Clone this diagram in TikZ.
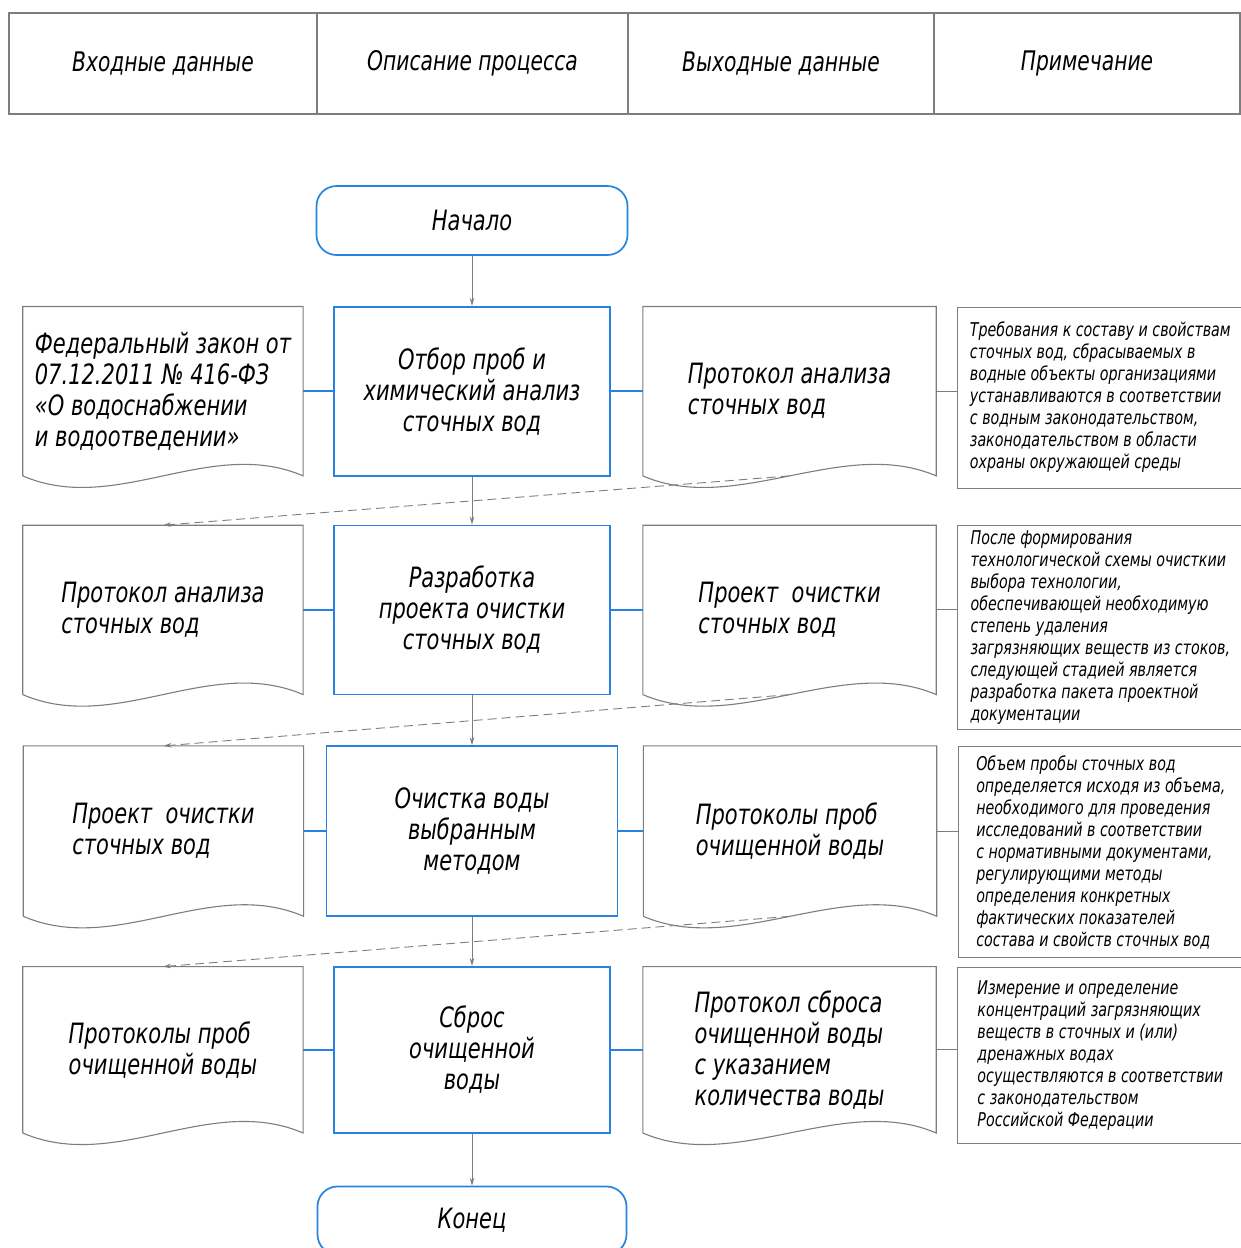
\documentclass[tikz,border=0pt]{standalone}
\usepackage{fontspec}
\setmainfont{DejaVu Sans}[FakeStretch=0.75]
\usetikzlibrary{arrows.meta, positioning}
\definecolor{lineblue}{RGB}{40,130,225}
\definecolor{linegray}{RGB}{125,125,125}

\begin{document}
\begin{tikzpicture}[
    x=1pt, y=-1pt,
    font=\itshape\fontsize{28}{31}\selectfont,
    head/.style={rectangle, draw=linegray, line width=1.1pt, minimum height=101pt, inner sep=0pt, font=\itshape\fontsize{27}{32}\selectfont},
    term/.style={rectangle, draw=lineblue, line width=1.7pt, rounded corners=20pt, minimum height=69pt, inner sep=0pt},
    proc/.style={rectangle, draw=lineblue, line width=1.7pt, minimum width=276pt, minimum height=169pt, align=center, inner sep=0pt},
    doc/.style={rectangle, minimum height=169pt, align=left, inner sep=0pt},
    note/.style={rectangle, draw=linegray, line width=1.1pt, minimum width=285pt, align=left, inner xsep=4pt, anchor=north west, font=\itshape\fontsize{19}{22}\selectfont},
    docline/.style={draw=linegray, line width=1.1pt},
    link/.style={draw=lineblue, line width=1.7pt},
    aside/.style={draw=linegray, line width=1.1pt},
    arrow/.style={-{Stealth[length=8pt,width=4.5pt]}, draw=linegray, line width=0.9pt},
    backarrow/.style={arrow, dash pattern=on 9pt off 5pt}
]
    \useasboundingbox (0,0) rectangle (1241,1248);

    \node[head, minimum width=308pt] (hIn) at (163,63.5) {Входные данные};
    \node[head, minimum width=311pt] (hProc) at (472.5,63.5) {Описание процесса};
    \node[head, minimum width=306pt] (hOut) at (781,63.5) {Выходные данные};
    \node[head, minimum width=306pt] (hNote) at (1087,63.5) {Примечание};

    \node[term, minimum width=311pt] (start) at (472,220.5) {Начало};
    \node[proc, below=50pt of start] (procA) {Отбор проб и\\химический анализ\\сточных вод};
    \node[proc, below=48pt of procA] (procB) {Разработка\\проекта очистки\\сточных вод};
    \node[proc, below=50pt of procB, minimum width=291pt, minimum height=170pt] (procC) {Очистка воды\\выбранным\\методом};
    \node[proc, below=49pt of procC, minimum height=166pt] (procD) {Сброс\\очищенной\\воды};
    \node[term, below=52pt of procD, minimum width=309pt, minimum height=68pt] (end) {Конец};

    \node[doc, left=30pt of procA, minimum width=280pt] (inA) {Федеральный закон от\\07.12.2011 № 416-ФЗ\\«О водоснабжении\\и водоотведении»};
    \node[doc, left=30pt of procB, minimum width=280pt] (inB) {Протокол анализа\\сточных вод};
    \node[doc, left=22pt of procC, minimum width=280pt, minimum height=170pt] (inC) {Проект~ очистки\\сточных вод};
    \node[doc, left=30pt of procD, minimum width=280pt, minimum height=166pt] (inD) {Протоколы проб\\очищенной воды};

    \node[doc, right=32pt of procA, minimum width=293pt] (outA) {Протокол анализа\\сточных вод};
    \node[doc, right=32pt of procB, minimum width=293pt] (outB) {Проект~ очистки\\сточных вод};
    \node[doc, right=25pt of procC, minimum width=293pt, minimum height=170pt] (outC) {Протоколы проб\\очищенной воды};
    \node[doc, right=32pt of procD, minimum width=293pt, minimum height=166pt] (outD) {Протокол сброса\\очищенной воды\\с указанием\\количества воды};

    \node[note, right=21pt of outA.north east, anchor=north west, minimum height=181pt] (noteA) {Требования к составу и свойствам\\сточных вод, сбрасываемых в\\водные объекты организациями\\устанавливаются в соответствии\\с водным законодательством,\\законодательством в области\\охраны окружающей среды};
    \node[note, right=21pt of outB.north east, anchor=north west, minimum height=204pt] (noteB) {После формирования\\технологической схемы очисткии\\выбора технологии,\\обеспечивающей необходимую\\степень удаления\\загрязняющих веществ из стоков,\\следующей стадией является\\разработка пакета проектной\\документации};
    \node[note, right=21pt of outC.north east, anchor=north west, minimum height=211pt] (noteC) {Объем пробы сточных вод\\определяется исходя из объема,\\необходимого для проведения\\исследований в соответствии\\с нормативными документами,\\регулирующими методы\\определения конкретных\\фактических показателей\\состава и свойств сточных вод};
    \node[note, right=21pt of outD.north east, anchor=north west, minimum height=176pt] (noteD) {Измерение и определение\\концентраций загрязняющих\\веществ в сточных и (или)\\дренажных водах\\осуществляются в соответствии\\с законодательством\\Российской Федерации};

    \foreach \d in {inA,inB,inC,inD,outA,outB,outC,outD}
        \draw[docline] (\d.south west) -- (\d.north west) -- (\d.north east) -- (\d.south east)
            .. controls +(-93,-40) and +(93,40) .. (\d.south west);

    \foreach \r in {A,B,C,D} {
        \draw[link] (in\r) -- (proc\r);
        \draw[link] (proc\r) -- (out\r);
        \draw[aside] (out\r.east) -- (out\r.east -| note\r.west);
    }

    \draw[arrow] (start) -- (procA);
    \draw[arrow] (procA) -- (procB);
    \draw[arrow] (procB) -- (procC);
    \draw[arrow] (procC) -- (procD);
    \draw[arrow] (procD) -- (end);

    \foreach \a/\b in {A/B,B/C,C/D}
        \draw[backarrow] (out\a.south) -- (in\b.north);
\end{tikzpicture}
\end{document}
